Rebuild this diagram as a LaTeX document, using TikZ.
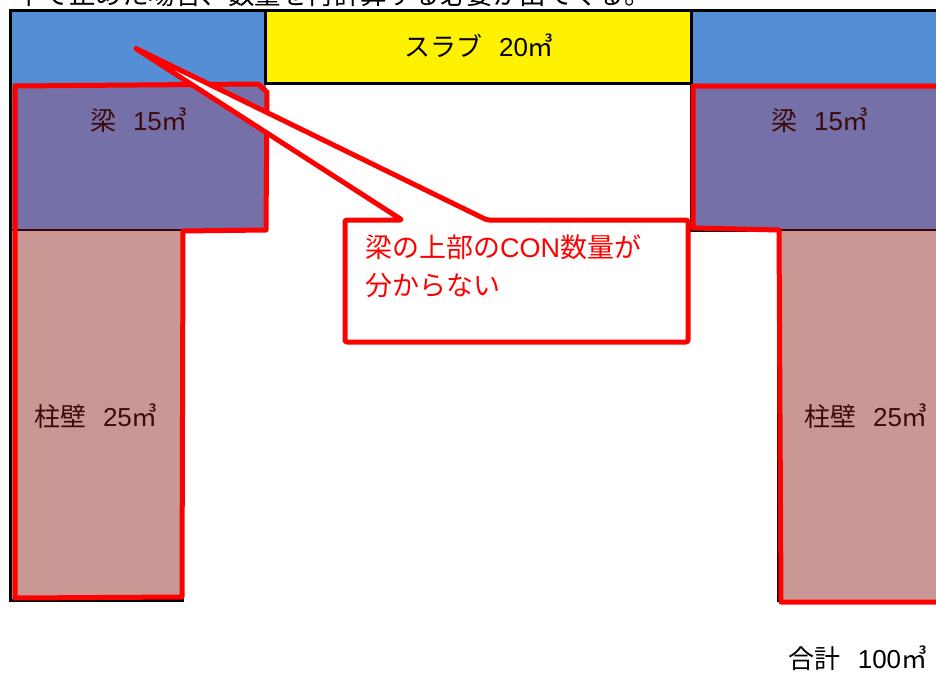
\documentclass[tikz,border=0pt]{standalone}
\usepackage{fontspec}
\setmainfont{Noto Sans CJK JP}
\newfontfamily\latinf{Liberation Sans}
\definecolor{slabblue}{HTML}{558ED5}
\definecolor{beampurple}{HTML}{7570A8}
\definecolor{colpink}{HTML}{C99794}
\definecolor{darkmaroon}{HTML}{3A0505}
\definecolor{lbltext}{HTML}{3D0A0A}
\newcommand{\qty}[1]{\hspace{17pt}{\latinf #1}㎥}
\begin{document}
\begin{tikzpicture}[x=1pt,y=-1pt,
  lbl/.style={font=\fontsize{26}{30}\selectfont, text=lbltext, inner sep=0pt},
  redline/.style={draw=red, line width=5pt, line join=round, line cap=round},
  blk/.style={draw=black, line width=3pt},
]
\useasboundingbox (0,0) rectangle (936,675);
\clip (0,0) rectangle (936,675);
\fill[white] (0,0) rectangle (936,675);
% top cut text
\node[anchor=south west, font=\fontsize{26.5}{30}\selectfont, inner sep=0pt] (toptext) at (16,7) {下で止めた場合、数量を再計算する必要が出てくる。};
% fills
\fill[slabblue] (10,10) rectangle (265,83);
\fill[slabblue] (691,10) rectangle (936,83);
\fill[beampurple] (10,83) rectangle (266,230);
\fill[beampurple] (691,83) rectangle (936,230);
\fill[colpink] (10,230) rectangle (182,600);
\fill[colpink] (778,230) rectangle (936,602);
\draw[blk, fill=yellow] (265,10) rectangle (691,83);
% black frame lines
\draw[blk] (936,10) -- (10,10) -- (10,600) -- (182,600) -- (182,230);
\draw[blk] (691,10) -- (691,230) -- (778,230) -- (778,602);
\draw[draw=darkmaroon, line width=2pt] (10,230) -- (182,230);
\draw[draw=darkmaroon, line width=2pt] (778,230) -- (936,230);
% red outlines
\draw[redline] (15,86) -- (258,84) -- (267,92) -- (266,230) -- (183,231) -- (182,597) -- (15,598) -- cycle;
\draw[redline] (940,86) -- (693,86) -- (693,228) -- (779,230) -- (781,602) -- (940,602);
% labels
\node[lbl, text=black] (slab) at (479,46) {スラブ\qty{20}};
\node[lbl] (beamL) at (139,120) {梁\qty{15}};
\node[lbl] (beamR) at (820,120) {梁\qty{15}};
\node[lbl] (colL) at (96,416) {柱壁\qty{25}};
\node[lbl] (colR) at (866,416) {柱壁\qty{25}};
\node[lbl, text=black] (total) at (858,658) {合計\qty{100}};
% callout
\coordinate (tip) at (135,48);
\draw[redline, fill=white, rounded corners=2pt] (345,220) -- (402,220) -- (tip) -- (487,220) -- (688,220) -- (688,342) -- (345,342) -- cycle;
\node[anchor=north west, align=left, text=red, font=\fontsize{27}{38}\selectfont, inner sep=0pt] (note) at (365,234) {梁の上部の{\latinf CON}数量が\\分からない};
\end{tikzpicture}
\end{document}
